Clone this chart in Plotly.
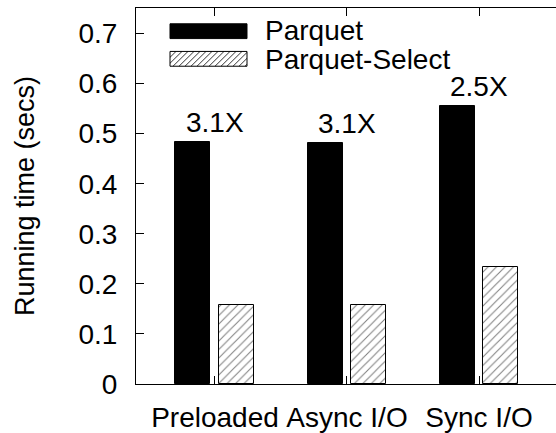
import plotly.graph_objects as go

categories = ["Preloaded", "Async I/O", "Sync I/O"]
parquet = [0.483, 0.481, 0.556]
parquet_select = [0.158, 0.158, 0.233]
speedup_labels = ["3.1X", "3.1X", "2.5X"]
series_names = ["Parquet", "Parquet-Select"]
y_ticks = [0, 0.1, 0.2, 0.3, 0.4, 0.5, 0.6, 0.7]

FONT = "Liberation Sans, Arial, Helvetica, sans-serif"
FS = 28
W, H = 556, 433
L, R, T, B = 136, 556, 8, 389


def px(x):
    return (x - L) / (R - L)


def py(y):
    return (B - y) / (B - T)


fig = go.Figure()
fig.add_trace(go.Bar(
    x=categories, y=parquet, name=series_names[0],
    width=0.265, offset=-0.299,
    marker=dict(color="black", line=dict(color="black", width=1)),
    showlegend=False,
))
fig.add_trace(go.Bar(
    x=categories, y=parquet_select, name=series_names[1],
    width=0.27, offset=0.027,
    marker=dict(color="white", line=dict(color="black", width=1),
                pattern=dict(shape="/", fgcolor="black", bgcolor="white",
                             size=6, solidity=0.17)),
    showlegend=False,
))

annotations = []
for c, v, lab in zip(categories, parquet, speedup_labels):
    annotations.append(dict(x=c, y=v, text=lab, showarrow=False,
                            xanchor="center", yanchor="bottom", yshift=2,
                            font=dict(family=FONT, size=FS, color="black")))

# manual legend
shapes = []
shapes.append(dict(type="rect", xref="paper", yref="paper",
                   x0=px(170), x1=px(247), y0=py(39), y1=py(24),
                   fillcolor="black", line=dict(color="black", width=1)))
hx0, hx1, hy0, hy1 = 170, 247, 52, 67
shapes.append(dict(type="rect", xref="paper", yref="paper",
                   x0=px(hx0), x1=px(hx1), y0=py(hy1), y1=py(hy0),
                   fillcolor="white", line=dict(color="black", width=1)))
hgt = hy1 - hy0
k = hx0 - hgt
while k < hx1:
    xa, ya = k, hy1
    xb, yb = k + hgt, hy0
    if xa < hx0:
        ya = hy1 - (hx0 - xa)
        xa = hx0
    if xb > hx1:
        yb = hy1 - (hx1 - k)
        xb = hx1
    if xb > xa:
        shapes.append(dict(type="line", xref="paper", yref="paper",
                           x0=px(xa), y0=py(ya), x1=px(xb), y1=py(yb),
                           line=dict(color="black", width=0.8)))
    k += 6

annotations.append(dict(xref="paper", yref="paper", x=px(263), y=py(31),
                        text=series_names[0], showarrow=False,
                        xanchor="left", yanchor="middle",
                        font=dict(family=FONT, size=FS, color="black")))
annotations.append(dict(xref="paper", yref="paper", x=px(263), y=py(60),
                        text=series_names[1], showarrow=False,
                        xanchor="left", yanchor="middle",
                        font=dict(family=FONT, size=FS, color="black")))

fig.update_layout(
    width=W, height=H,
    margin=dict(l=L, r=W - R, t=T, b=H - B, pad=0),
    paper_bgcolor="white", plot_bgcolor="white",
    font=dict(family=FONT, size=FS, color="black"),
    showlegend=False,
    bargap=0,
    xaxis=dict(type="category", categoryorder="array", categoryarray=categories,
               range=[-0.598, 2.583],
               showline=True, linecolor="black", linewidth=1, mirror="ticks",
               ticks="inside", ticklen=8, tickcolor="black",
               showgrid=False, zeroline=False,
               tickfont=dict(family=FONT, size=FS, color="black"),
               ticklabelstandoff=8),
    yaxis=dict(range=[0, 0.751], tickvals=y_ticks,
               ticktext=[("%g" % v) for v in y_ticks],
               showline=True, linecolor="black", linewidth=1, mirror=False,
               ticks="inside", ticklen=8, tickcolor="black",
               showgrid=False, zeroline=False,
               tickfont=dict(family=FONT, size=FS, color="black"),
               ticklabelstandoff=12,
               title=dict(text="Running time (secs)", standoff=36,
                          font=dict(family=FONT, size=FS - 1, color="black"))),
    yaxis2=dict(overlaying="y", side="right", anchor="x", range=[0, 0.751],
                tickvals=y_ticks, showticklabels=False, showline=False,
                ticks="inside", ticklen=8, tickcolor="black",
                showgrid=False, zeroline=False),
    shapes=shapes,
    annotations=annotations,
)

fig.write_html("out.html")
